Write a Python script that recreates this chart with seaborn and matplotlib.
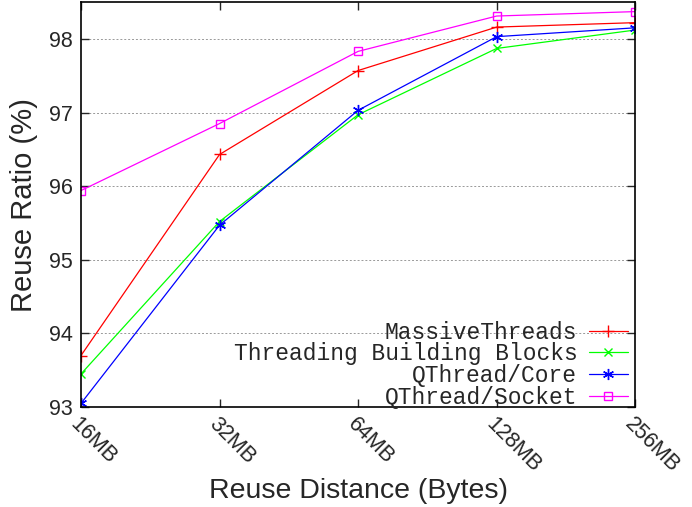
import numpy as np
import pandas as pd
import matplotlib
matplotlib.use("Agg")
import matplotlib.pyplot as plt
import seaborn as sns

categories = ["16MB", "32MB", "64MB", "128MB", "256MB"]
massive_threads = [93.70, 96.43, 97.57, 98.16, 98.22]
tbb = [93.45, 95.52, 96.97, 97.87, 98.12]
qthread_core = [93.05, 95.47, 97.03, 98.03, 98.15]
qthread_socket = [95.94, 96.85, 97.83, 98.31, 98.37]
series_names = ["MassiveThreads", "Threading Building Blocks", "QThread/Core", "QThread/Socket"]
yticks = [93, 94, 95, 96, 97, 98]

sns.set_style("white")
plt.rcParams["font.family"] = ["Liberation Sans", "DejaVu Sans"]

fig = plt.figure(figsize=(6.92, 5.07), dpi=100)
ax = fig.add_axes([0.117, 0.197, 0.801, 0.799])

x = np.arange(len(categories))
colors = ["#ff0000", "#00ff00", "#0000ff", "#ff00ff"]
markers = ["+", "x", (6, 2, 0), "s"]
msizes = [8, 6, 8, 5.5]
for name, vals, c, m, ms in zip(series_names, [massive_threads, tbb, qthread_core, qthread_socket], colors, markers, msizes):
    df = pd.DataFrame({"x": x, "y": vals})
    extra = {"markerfacecolor": "none"} if m == "s" else {}
    sns.lineplot(data=df, x="x", y="y", ax=ax, label=name, linewidth=0.9,
                 color=c, marker=m, markersize=ms, markeredgewidth=1.0,
                 markeredgecolor=c, **extra)

ax.set_xlim(0, 4)
ax.set_ylim(93, 98.5)
ax.set_yticks(yticks)
ax.set_yticklabels([str(t) for t in yticks], fontsize=15.5)
ax.set_xticks(x)
ax.set_xticklabels(categories, fontsize=15.5, rotation=-45, ha="left", va="top", rotation_mode="anchor")
ax.tick_params(axis="both", direction="in", length=6, width=1, top=True, right=True, bottom=True, left=True, pad=6)
ax.tick_params(axis="x", pad=5)
ax.yaxis.grid(True, linestyle=(0, (2, 2)), color="#999999", linewidth=0.7)
ax.xaxis.grid(False)
for s in ax.spines.values():
    s.set_color("black")
    s.set_linewidth(1.2)
    s.set_visible(True)

ax.set_xlabel("Reuse Distance (Bytes)", fontsize=20.5, va="baseline")
ax.xaxis.set_label_coords(0.5, -0.2247)
ax.set_ylabel("Reuse Ratio (%)", fontsize=21, labelpad=8)

leg = ax.legend(loc="lower right", markerfirst=False, frameon=False,
                prop={"family": "Liberation Mono", "size": 16.5},
                handlelength=1.7, handletextpad=0.5, labelspacing=-0.06,
                borderaxespad=0.1, bbox_to_anchor=(1.007, -0.032))
for t in leg.get_texts():
    t.set_ha("right")

fig.savefig("out.png", dpi=100)
